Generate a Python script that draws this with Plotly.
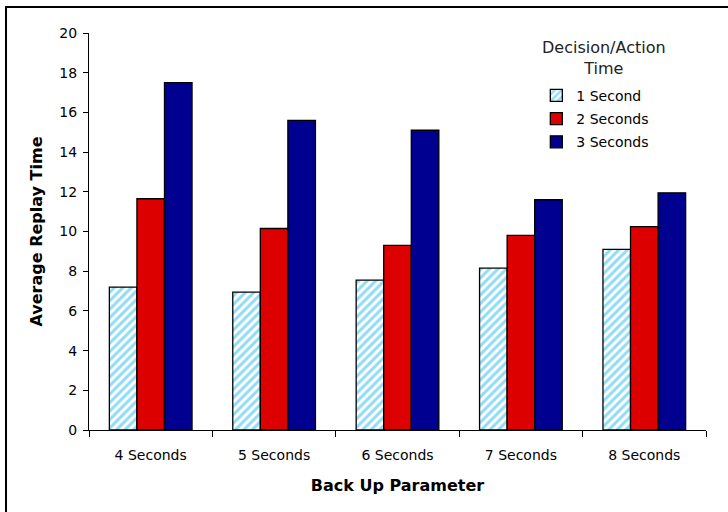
import plotly.graph_objects as go

# Average replay time by back-up parameter, grouped by decision/action time
categories = ["4 Seconds", "5 Seconds", "6 Seconds", "7 Seconds", "8 Seconds"]
one_second = [7.2, 6.95, 7.55, 8.15, 9.1]
two_seconds = [11.65, 10.15, 9.3, 9.8, 10.25]
three_seconds = [17.5, 15.6, 15.1, 11.6, 11.95]

series_names = ["1 Second", "2 Seconds", "3 Seconds"]
series_values = [one_second, two_seconds, three_seconds]
legend_heading = "Decision/Action<br>Time"

FONT = "DejaVu Sans"
outline = dict(color="black", width=1.3)

fig = go.Figure()

fig.add_trace(go.Bar(
    x=categories, y=series_values[0], name=series_names[0], legendgroup="a",
    marker=dict(
        color="white",
        line=outline,
        pattern=dict(shape="/", fgcolor="#22b8ee", bgcolor="white",
                     size=6, solidity=0.5),
    ),
))
fig.add_trace(go.Bar(
    x=categories, y=series_values[1], name=series_names[1], legendgroup="b",
    marker=dict(color="#dd0000", line=outline),
))
fig.add_trace(go.Bar(
    x=categories, y=series_values[2], name=series_names[2], legendgroup="c",
    marker=dict(color="#000090", line=outline),
))

fig.update_layout(
    width=728, height=512,
    margin=dict(l=89, r=22, t=33, b=82),
    paper_bgcolor="white", plot_bgcolor="white",
    barmode="group", bargap=0.33, bargroupgap=0,
    font=dict(family=FONT, size=14, color="black"),
    legend=dict(
        x=0.725, y=0.882, xanchor="left", yanchor="top",
        bgcolor="rgba(0,0,0,0)",
        font=dict(family=FONT, size=14, color="black"),
        tracegroupgap=2,
        traceorder="grouped",
    ),
    showlegend=True,
)

# legend heading, centred over the legend entries
fig.add_annotation(
    text=legend_heading, xref="paper", yref="paper",
    x=0.8347, y=0.938, xanchor="center", yanchor="middle",
    align="center", showarrow=False,
    font=dict(family=FONT, size=16, color="#222222"),
)

fig.update_xaxes(
    showline=True, linecolor="black", linewidth=1,
    ticks="outside", tickson="boundaries", ticklen=6, tickcolor="black",
    tickfont=dict(family=FONT, size=14),
    ticklabelstandoff=12,
    showgrid=False,
    title=dict(text="<b>Back Up Parameter</b>",
               font=dict(family=FONT, size=16), standoff=18),
)
fig.update_yaxes(
    range=[0, 20], dtick=2,
    showline=True, linecolor="black", linewidth=1,
    ticks="outside", ticklen=5, tickcolor="black",
    tickfont=dict(family=FONT, size=14),
    ticklabelstandoff=3,
    showgrid=False, zeroline=False,
    title=dict(text="<b>Average Replay Time</b>",
               font=dict(family=FONT, size=16), standoff=12),
)

# outer chart frame
fig.add_shape(type="rect", xref="paper", yref="paper",
              x0=-0.1345, x1=1.06, y0=-0.23, y1=1.0655,
              line=dict(color="black", width=2), layer="below")

fig.write_html("out.html")
